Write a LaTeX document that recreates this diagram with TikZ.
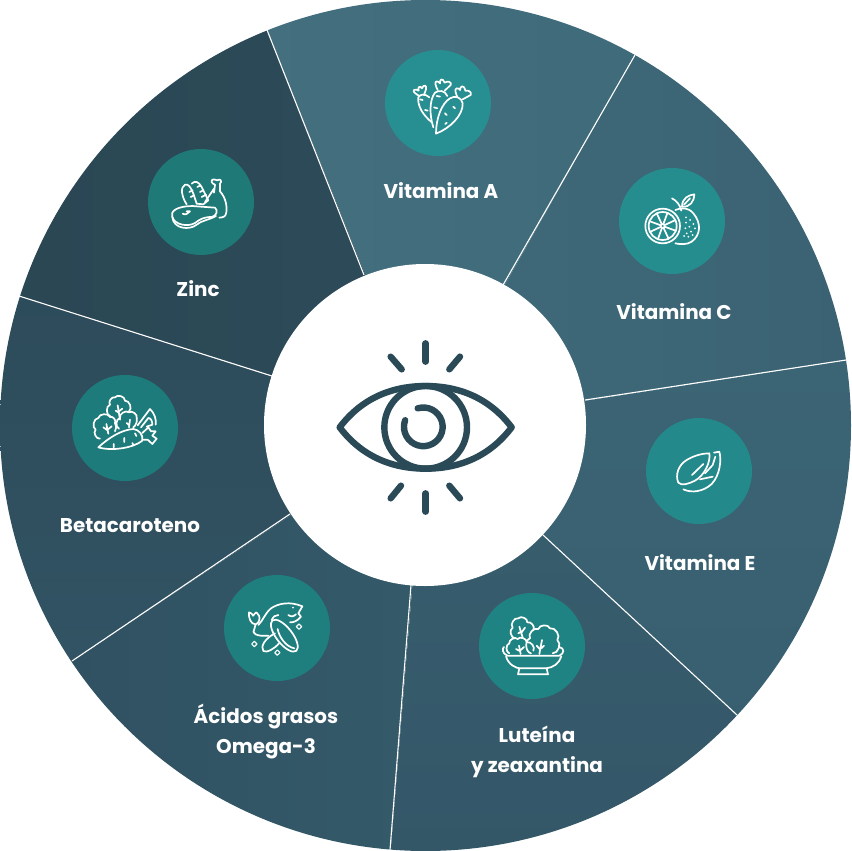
\documentclass[tikz,border=0pt]{standalone}
\usepackage{fontspec}
\setmainfont{Poppins}
\newfontfamily\lblfont{Poppins Bold}
\definecolor{eyecol}{HTML}{2B4A58}
\definecolor{aL}{HTML}{436F7F}\definecolor{aD}{HTML}{3F6A7A}
\definecolor{cL}{HTML}{3F6A7A}\definecolor{cD}{HTML}{3A6171}
\definecolor{eL}{HTML}{3B6474}\definecolor{eD}{HTML}{375D6D}
\definecolor{lL}{HTML}{385E6E}\definecolor{lD}{HTML}{335667}
\definecolor{oL}{HTML}{345A6A}\definecolor{oD}{HTML}{2F4F5F}
\definecolor{bL}{HTML}{325464}\definecolor{bD}{HTML}{2D4B5A}
\definecolor{zL}{HTML}{2D4B59}\definecolor{zD}{HTML}{2A4653}
\tikzset{
  x=1pt,y=-1pt,
  spoke/.style={draw=white,line width=1.1pt},
  badge/.style={circle,minimum size=106pt,inner sep=0pt,fill=#1},
  lbl/.style={text=white,font=\lblfont\fontsize{19.9}{30}\selectfont,align=center,inner sep=0pt},
  icon/.style={draw=white,line width=1.7pt,line cap=round,line join=round},
  leaf/.style={icon,every to/.style={bend left=75}},
  eyeline/.style={draw=eyecol,line width=6.4pt,line cap=round,line join=round},
  zoomed/.style={shift={#1},scale=1/3}
}
\definecolor{bdA}{HTML}{278F91}\definecolor{bdC}{HTML}{268D8F}\definecolor{bdE}{HTML}{23898A}
\definecolor{bdL}{HTML}{208383}\definecolor{bdO}{HTML}{1F7F7F}\definecolor{bdB}{HTML}{1E7B7B}\definecolor{bdZ}{HTML}{1E7977}
\begin{document}
\begin{tikzpicture}
\useasboundingbox (0,0) rectangle (851,851);
\begin{scope}
\clip (425.5,425.5) circle[radius=425.5];
\shade[left color=aL,right color=aD] (425.5,425.5) -- (250,-14) -- (600,-60) -- (660,10) -- cycle;
\shade[left color=cL,right color=cD] (425.5,425.5) -- (660,10) -- (900,-60) -- (900,352) -- cycle;
\shade[top color=eL,bottom color=eD] (425.5,425.5) -- (900,352) -- (900,900) -- (775,750) -- cycle;
\shade[top color=lL,bottom color=lD] (425.5,425.5) -- (775,750) -- (700,920) -- (385,920) -- cycle;
\shade[right color=oL,left color=oD] (425.5,425.5) -- (385,920) -- (-10,920) -- (20,696) -- cycle;
\shade[top color=bD,bottom color=bL] (425.5,425.5) -- (20,696) -- (-50,700) -- (-50,274) -- cycle;
\shade[right color=zL,left color=zD] (425.5,425.5) -- (-50,274) -- (-50,-50) -- (250,-50) -- (250,-14) -- cycle;
\end{scope}
\coordinate (s1a) at (364,275); \coordinate (s1b) at (267,30);
\coordinate (s2a) at (503,285); \coordinate (s2b) at (635,55);
\coordinate (s3a) at (585,400); \coordinate (s3b) at (846,360);
\coordinate (s4a) at (543,535); \coordinate (s4b) at (737,715);
\coordinate (s5a) at (411,585); \coordinate (s5b) at (390,850);
\coordinate (s6a) at (290,514); \coordinate (s6b) at (72,661);
\coordinate (s7a) at (272,376); \coordinate (s7b) at (19,296);
\foreach \i in {1,...,7} \draw[spoke] (s\i a) -- (s\i b);
\node[circle,fill=white,minimum size=322pt,inner sep=0pt] (hub) at (425,425) {};
\node[badge=bdA] (bA) at (438,103) {};
\node[badge=bdC] (bC) at (672,221) {};
\node[badge=bdE] (bE) at (699,471) {};
\node[badge=bdL] (bL) at (532,646) {};
\node[badge=bdO] (bO) at (277,628) {};
\node[badge=bdB] (bB) at (125,428) {};
\node[badge=bdZ] (bZ) at (201,202) {};
\node[lbl] (tA) at (441,191) {Vitamina A};
\node[lbl] (tC) at (674,312) {Vitamina C};
\node[lbl] (tE) at (700,563) {Vitamina E};
\node[lbl] (tL) at (537,752) {Luteína\\y zeaxantina};
\node[lbl] (tO) at (266,732) {Ácidos grasos\\Omega-3};
\node[lbl] (tB) at (130,526) {Betacaroteno};
\node[lbl] (tZ) at (198,289) {Zinc};
\begin{scope}[zoomed={(325,330)}]
\draw[eyeline] (44,292) .. controls (110,205) and (200,168) .. (302,168) .. controls (404,168) and (494,205) .. (560,292) .. controls (494,379) and (404,416) .. (302,416) .. controls (200,416) and (110,379) .. (44,292) -- cycle;
\draw[eyeline] (302,292) circle[radius=124];
\draw[eyeline] (278,235) arc[start angle=-107,end angle=200,radius=58];
\draw[eyeline] (302,40) -- (302,95);
\draw[eyeline] (197,80) -- (230,118);
\draw[eyeline] (405,80) -- (373,118);
\draw[eyeline] (302,490) -- (302,545);
\draw[eyeline] (228,467) -- (197,505);
\draw[eyeline] (373,467) -- (405,505);
\end{scope}
\begin{scope}[zoomed={(370,40)}]
\draw[icon] (184,246) .. controls (160,225) and (142,200) .. (145,172) .. controls (150,162) and (165,160) .. (178,172);
\draw[icon] (148,168) .. controls (135,160) and (128,155) .. (132,150) .. controls (136,146) and (142,150) .. (146,152) .. controls (142,142) and (150,135) .. (156,145) .. controls (160,132) and (172,135) .. (168,148) -- (162,165);
\draw[icon] (190,262) .. controls (178,225) and (178,180) .. (195,158) .. controls (205,150) and (225,150) .. (232,168);
\draw[icon] (203,150) .. controls (198,140) and (192,125) .. (200,124) .. controls (205,124) and (208,128) .. (210,130) .. controls (208,118) and (218,112) .. (224,128) .. controls (232,122) and (246,125) .. (242,135) -- (224,152);
\draw[icon] (198,281) .. controls (198,235) and (215,190) .. (240,175) .. controls (255,165) and (275,172) .. (278,190) .. controls (280,225) and (240,265) .. (198,281) -- cycle;
\draw[icon] (262,172) .. controls (258,160) and (252,148) .. (260,145) .. controls (265,143) and (268,148) .. (270,150) .. controls (270,138) and (282,132) .. (286,152) .. controls (296,150) and (306,156) .. (302,165) -- (278,178);
\draw[icon] (150,178) -- (158,180) (165,210) -- (173,212) (192,202) -- (202,205) (200,168) -- (210,170) (225,220) -- (230,225) (250,200) -- (255,205) (230,248) -- (226,252);
\end{scope}
\begin{scope}[zoomed={(610,160)}]
\draw[icon] (158,198) circle[radius=52];
\draw[icon] (158,198) circle[radius=42];
\foreach \a in {20,65,...,335} \draw[icon] (158,198) ++(\a:8) -- ++(\a:34);
\draw[icon] (158,198) circle[radius=6];
\draw[icon] (196,150) .. controls (215,142) and (235,142) .. (250,160) .. controls (275,190) and (272,225) .. (245,245) .. controls (230,255) and (210,253) .. (196,250);
\draw[icon] (186,115) .. controls (200,122) and (210,135) .. (214,152);
\draw[icon] (216,140) .. controls (216,115) and (235,105) .. (253,103) .. controls (252,125) and (240,142) .. (216,140) -- cycle;
\draw[icon] (222,134) -- (240,115);
\foreach \p in {(228,172),(240,180),(228,188),(250,192),(238,200),(226,205),(255,205),(243,215),(230,220),(222,228),(235,230),(248,225)}
  \fill[white] \p circle[radius=3];
\end{scope}
\begin{scope}[zoomed={(640,410)}]
\draw[icon] (115,218) .. controls (105,195) and (115,165) .. (140,150) .. controls (165,135) and (190,130) .. (208,130) .. controls (212,155) and (195,195) .. (165,212) .. controls (145,222) and (125,228) .. (115,218) -- cycle;
\draw[icon] (222,128) -- (238,125) .. controls (245,150) and (240,195) .. (215,222) .. controls (190,245) and (155,250) .. (130,238);
\draw[icon] (156,195) -- (190,162);
\draw[icon] (180,208) -- (218,200) (195,190) -- (218,165) -- (226,140);
\end{scope}
\begin{scope}[zoomed={(470,585)}]
\draw[icon] (112,212) .. controls (96,205) and (96,190) .. (102,186) (268,186) .. controls (284,190) and (284,205) .. (268,212) -- (112,212);
\draw[icon] (108,214) .. controls (115,240) and (140,250) .. (150,250) -- (228,250) .. controls (250,248) and (268,235) .. (274,214);
\draw[icon] (148,250) -- (144,268) -- (234,268) -- (230,250);
\draw[leaf] (135,160) to (128,128) to (145,100) to (172,112) to (190,135);
\draw[icon] (148,125) -- (158,158) (145,145) -- (153,140) (165,128) -- (155,142);
\draw[leaf] (183,205) to (180,160) to (205,132) to (240,130) to (262,165) to (248,205);
\draw[icon] (208,207) -- (216,165) (200,182) -- (209,192) (222,182) -- (214,190);
\draw[leaf] (118,205) to (118,175) to (143,162) to (170,172) to (190,197);
\draw[icon] (152,207) -- (147,182) (138,192) -- (149,198) (162,186) -- (151,196);
\end{scope}
\begin{scope}[zoomed={(215,565)}]
\draw[icon] (208,212) circle[x radius=58,y radius=24,rotate=-52];
\draw[icon] (188,192) .. controls (192,215) and (212,245) .. (238,250);
\draw[icon] (180,205) .. controls (150,220) and (135,245) .. (145,258) .. controls (155,265) and (180,250) .. (192,235);
\draw[icon] (262,124) .. controls (225,108) and (190,115) .. (168,130) .. controls (150,145) and (145,165) .. (130,180);
\draw[icon] (122,178) .. controls (108,178) and (100,160) .. (102,142) .. controls (108,142) and (112,148) .. (114,152) .. controls (118,146) and (122,144) .. (124,142) .. controls (128,146) and (130,150) .. (132,152) .. controls (136,160) and (132,175) .. (122,178) -- (118,192) .. controls (108,205) and (125,215) .. (160,212);
\draw[icon] (262,124) -- (250,145) -- (258,155) .. controls (245,170) and (235,172) .. (225,172);
\draw[icon] (220,150) .. controls (228,156) and (235,155) .. (243,148);
\fill[white] (234,128) circle[radius=3];
\draw[icon] (170,165) .. controls (175,155) and (180,150) .. (190,150);
\foreach \p in {(252,185),(118,237),(187,263)}
  \draw[icon,line width=1.1pt] \p ++(-8,0) -- ++(8,-8) -- ++(8,8) -- ++(-8,8) -- cycle;
\end{scope}
\begin{scope}[zoomed={(65,368)}]
\draw[icon] (100,238) .. controls (130,210) and (170,185) .. (205,183) .. controls (222,185) and (235,200) .. (232,218) .. controls (205,240) and (140,250) .. (100,238) -- cycle;
\draw[icon] (232,195) -- (250,178) -- (258,190) -- (272,190) -- (262,203) -- (275,212) -- (262,228) -- (248,215) -- (235,215);
\draw[icon] (146,228) -- (146,238) (178,210) -- (178,222) (202,225) -- (206,232) (210,196) -- (214,204);
\draw[leaf] (105,212) to (92,185) to (100,150) to (135,147) to (150,165);
\draw[icon] (150,165) to[bend left=30] (150,190);
\draw[icon] (130,197) -- (124,168) (115,178) -- (126,186) (140,175) -- (128,185);
\draw[leaf] (136,145) to (135,110) to (150,88) to (180,98) to (192,130);
\draw[icon] (165,155) -- (158,112) (152,128) -- (161,134) (172,122) -- (162,130);
\draw[leaf] (162,182) to (165,150) to (192,133) to (215,150);
\draw[icon] (215,150) to[bend left=30] (205,178);
\draw[icon] (192,178) -- (195,155) (185,165) -- (193,172);
\draw[icon] (218,172) -- (255,123) .. controls (268,135) and (275,155) .. (272,170);
\draw[icon] (228,178) -- (250,150) .. controls (258,150) and (262,160) .. (262,170) -- (245,176);
\end{scope}
\begin{scope}[zoomed={(140,142)}]
\draw[icon] (97,212) .. controls (105,195) and (145,190) .. (170,193) -- (225,197) .. controls (235,205) and (230,222) .. (215,225) .. controls (190,225) and (180,232) .. (165,243) .. controls (145,255) and (105,250) .. (97,225) -- (97,212) -- cycle;
\draw[icon] (97,225) .. controls (100,262) and (150,265) .. (170,248) .. controls (185,235) and (205,235) .. (228,222);
\draw[icon] (128,215) .. controls (135,220) and (145,215) .. (150,208) -- (140,208);
\draw[icon] (140,187) .. controls (125,165) and (120,135) .. (135,128) .. controls (145,125) and (152,135) .. (160,155) -- (170,185);
\draw[icon] (155,125) .. controls (165,115) and (175,118) .. (185,135) -- (205,175) -- (190,187) (170,185) -- (190,187);
\draw[icon] (148,150) -- (158,145) (152,165) -- (162,160) (172,135) -- (182,130) (180,150) -- (190,145) (185,165) -- (198,158);
\draw[icon] (195,180) -- (222,140) (222,152) -- (225,128) .. controls (215,125) and (210,115) .. (220,112) .. controls (225,112) and (230,115) .. (232,115) .. controls (240,108) and (248,118) .. (240,125) -- (240,148) .. controls (260,170) and (262,200) .. (258,215) .. controls (256,225) and (248,226) .. (238,227);
\end{scope}
\end{tikzpicture}
\end{document}
